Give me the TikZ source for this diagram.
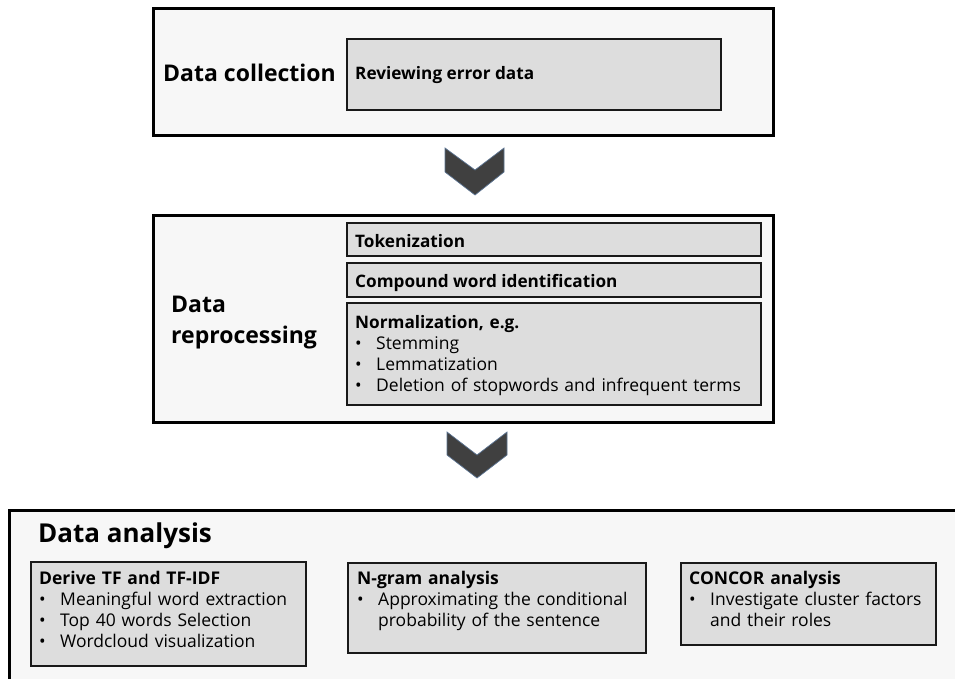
\documentclass[tikz,border=0pt]{standalone}
\usepackage{fontspec}
\setmainfont{Open Sans}
\usepackage{xcolor}
\usepackage{tikz}
\usetikzlibrary{fit, positioning}

\definecolor{stagefill}{HTML}{F7F7F7}
\definecolor{stepfill}{HTML}{DDDDDD}
\definecolor{chevfill}{HTML}{404040}
\definecolor{chevedge}{HTML}{5B7391}

\tikzset{
  stagebox/.style={draw=black, line width=3pt, fill=stagefill, inner sep=0pt},
  stepbox/.style={draw=black!90, line width=2.6pt, fill=stepfill, inner sep=0pt},
  stagetitle/.style={font=\fontsize{23}{31}\selectfont\bfseries, align=left, inner sep=0pt, anchor=base west},
  steptext/.style={font=\fontsize{17.5}{21}\selectfont, text width=#1, align=left, inner sep=0pt, anchor=base west},
  steptitle/.style={font=\fontsize{17.2}{21}\selectfont\bfseries, inner sep=0pt, anchor=base west},
  chevron/.style={fill=chevfill, draw=chevedge, line width=0.7pt, line join=miter}
}
\newcommand{\itm}{\makebox[21pt][l]{\textbullet}}
\newcommand{\cont}{\hspace*{21pt}}

\begin{document}
\begin{tikzpicture}[x=1pt, y=-1pt]
    \useasboundingbox (0,0) rectangle (955,679);
    \clip (0,0) rectangle (955,679);

    % Stage 1
    \node[stagebox, fit={(153,9) (773,136)}] (collect) {};
    \node[stagetitle] (collecttitle) at (163,82) {Data collection};
    \node[stepbox, fit={(347,39) (721,110)}] (review) {};
    \node[steptitle] (reviewtxt) at (355,80) {Reviewing error data};

    \draw[chevron] (445,148) -- (475,170) -- (504,148) -- (504,172) -- (475,195) -- (445,172) -- cycle;

    % Stage 2
    \node[stagebox, fit={(153,215) (773,422)}] (prep) {};
    \node[stagetitle] (preptitle) at (171,343) {Data\\reprocessing};
    \node[stepbox, fit={(347,223) (761,256)}] (token) {};
    \node[steptitle] (tokentxt) at (355,247) {Tokenization};
    \node[stepbox, fit={(347,263) (761,297)}] (compound) {};
    \node[steptitle] (compoundtxt) at (355,287) {Compound word identification};
    \node[stepbox, fit={(347,303) (761,405)}] (norm) {};
    \node[steptext=400pt] (normtxt) at (355,328)
      {\textbf{\fontsize{17.2}{21}\selectfont Normalization, e.g.}\\
       \itm Stemming\\
       \itm Lemmatization\\
       \itm Deletion of stopwords and infrequent terms};

    \draw[chevron] (447,432) -- (477,455) -- (507,432) -- (507,455) -- (477,478) -- (447,455) -- cycle;

    % Stage 3
    \node[stagebox, fit={(9,510) (990,720)}] (analysis) {};
    \node[stagetitle, font=\fontsize{26}{30}\selectfont\bfseries] (analysistitle) at (38,542) {Data analysis};
    \node[stepbox, fit={(31,562) (306,666)}] (tfidf) {};
    \node[steptext=270pt] (tfidftxt) at (39,584)
      {\textbf{Derive TF and TF-IDF}\\
       \itm Meaningful word extraction\\
       \itm Top 40 words Selection\\
       \itm Wordcloud visualization};
    \node[stepbox, fit={(348,563) (646,653)}] (ngram) {};
    \node[steptext=290pt] (ngramtxt) at (357,584)
      {\textbf{N-gram analysis}\\
       \itm Approximating the conditional\\
       \cont probability of the sentence};
    \node[stepbox, fit={(681,563) (936,645)}] (concor) {};
    \node[steptext=250pt] (concortxt) at (689,584)
      {\textbf{CONCOR analysis}\\
       \itm Investigate cluster factors\\
       \cont and their roles};
\end{tikzpicture}
\end{document}
